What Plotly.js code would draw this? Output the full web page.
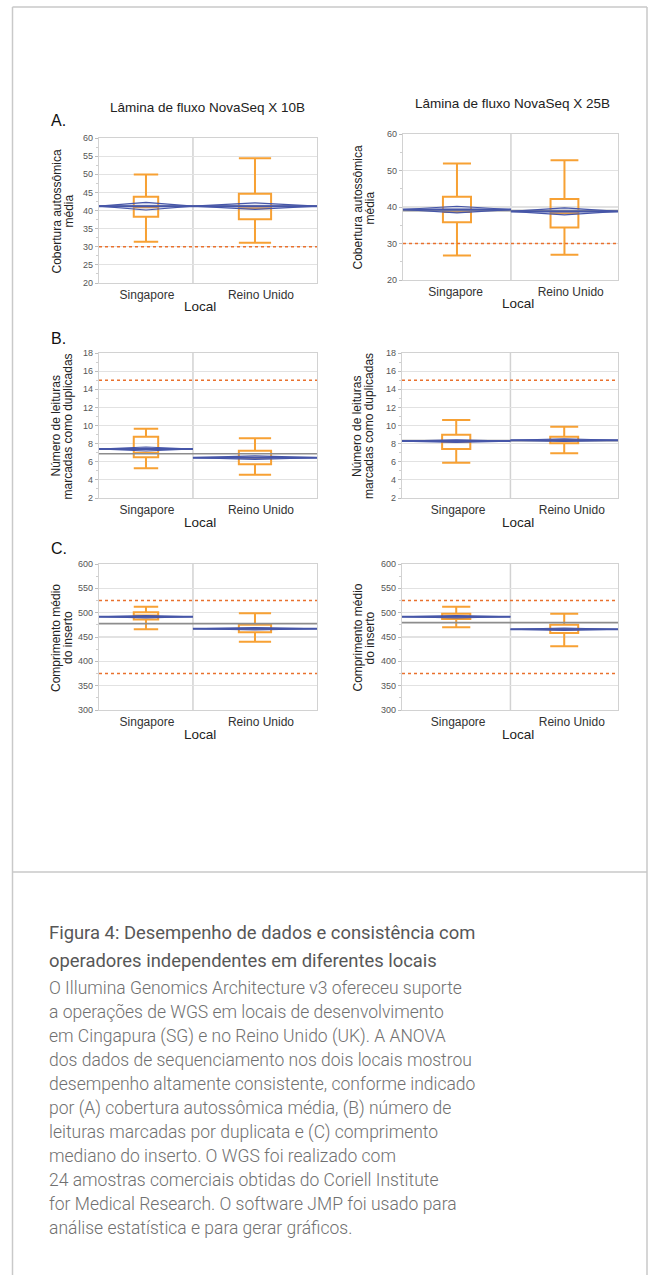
<!DOCTYPE html>
<html>
<head>
<meta charset="utf-8">
<script src="https://cdn.plot.ly/plotly-3.0.1.min.js"></script>
<style>
html,body{margin:0;padding:0;background:#fff;}
#chart{width:651px;height:1275px;}
</style>
</head>
<body>
<div id="chart"></div>
<script>
// ---------------- DATA ----------------
const sites = ['Singapore', 'Reino Unido'];
const flowCells = ['Lâmina de fluxo NovaSeq X 10B', 'Lâmina de fluxo NovaSeq X 25B'];
const panelLetters = ['A.', 'B.', 'C.'];
const xTitle = 'Local';

// box stats per site: [lower whisker, Q1, median, Q3, upper whisker]
const cov10B_box = [[31.4, 38.3, 40.9, 43.8, 49.9], [31.1, 37.6, 40.6, 44.6, 54.4]];
const cov25B_box = [[26.7, 35.8, 38.6, 42.8, 51.9], [26.9, 34.4, 38.3, 42.2, 52.8]];
const dup10B_box = [[5.27, 6.5, 7.0, 8.76, 9.65], [4.57, 5.72, 6.45, 7.22, 8.58]];
const dup25B_box = [[5.9, 7.4, 8.2, 8.98, 10.6], [6.93, 8.03, 8.4, 8.76, 9.87]];
const ins10B_box = [[466, 486, 494, 501, 512], [440, 460, 467, 475, 499]];
const ins25B_box = [[470, 487, 492, 498, 512], [431, 458, 466, 475, 498]];

// group means and half-height of means diamonds
const cov10B_mean = [41.2, 41.2];  const cov10B_ci = [1.05, 0.9];
const cov25B_mean = [39.3, 38.8];  const cov25B_ci = [0.9, 0.95];
const dup10B_mean = [7.4, 6.45];   const dup10B_ci = [0.22, 0.2];
const dup25B_mean = [8.28, 8.38];  const dup25B_ci = [0.15, 0.15];
const ins10B_mean = [491.7, 467];  const ins10B_ci = [2.5, 2.5];
const ins25B_mean = [491.5, 466];  const ins25B_ci = [2.5, 2.5];

// grand means (gray line)
const cov10B_grand = 41.2, cov25B_grand = 39.0;
const dup10B_grand = 6.88, dup25B_grand = 8.33;
const ins10B_grand = 477.5, ins25B_grand = 479.5;

// specification limits (dashed lines)
const covLimits = [30];
const dupLimits = [15];
const insLimits = [375, 525];

const yTitles = [
  ['Cobertura autossômica', 'média'],
  ['Número de leituras', 'marcadas como duplicadas'],
  ['Comprimento médio', 'do inserto']
];

const captionTitle = [
  'Figura 4: Desempenho de dados e consistência com',
  'operadores independentes em diferentes locais'
];
const captionBody = [
  'O Illumina Genomics Architecture v3 ofereceu suporte',
  'a operações de WGS em locais de desenvolvimento',
  'em Cingapura (SG) e no Reino Unido (UK). A ANOVA',
  'dos dados de sequenciamento nos dois locais mostrou',
  'desempenho altamente consistente, conforme indicado',
  'por (A) cobertura autossômica média, (B) número de',
  'leituras marcadas por duplicata e (C) comprimento',
  'mediano do inserto. O WGS foi realizado com',
  '24 amostras comerciais obtidas do Coriell Institute',
  'for Medical Research. O software JMP foi usado para',
  'análise estatística e para gerar gráficos.'
];

// ---------------- LAYOUT HELPERS ----------------
const W = 651, H = 1275;
const fx = p => p / W;
const fy = p => 1 - p / H;
const FONT = 'Liberation Sans, Arial, sans-serif';
const ORANGE = '#f7a134';
const LIMIT = '#e9712d';
const BLUE = '#4656a8';
const GREY = '#8d8d8d';

const panels = [
  {box: cov10B_box, mean: cov10B_mean, ci: cov10B_ci, grand: cov10B_grand, lim: covLimits, yr: [20, 60], dt: 5, mdt: 2.5, xpx: [99, 317], ypx: [138, 283], split: 0.431, lab: [0.22, 0.743], row: 0, col: 0},
  {box: cov25B_box, mean: cov25B_mean, ci: cov25B_ci, grand: cov25B_grand, lim: covLimits, yr: [20, 60], dt: 10, mdt: 5, xpx: [403, 618], ypx: [134, 280], split: 0.502, lab: [0.245, 0.78], row: 0, col: 1},
  {box: dup10B_box, mean: dup10B_mean, ci: dup10B_ci, grand: dup10B_grand, lim: dupLimits, yr: [2, 18], dt: 2, mdt: 1, xpx: [99, 317], ypx: [353, 498], split: 0.431, lab: [0.22, 0.743], row: 1, col: 0},
  {box: dup25B_box, mean: dup25B_mean, ci: dup25B_ci, grand: dup25B_grand, lim: dupLimits, yr: [2, 18], dt: 2, mdt: 1, xpx: [402, 618], ypx: [353, 498], split: 0.502, lab: [0.26, 0.786], row: 1, col: 1},
  {box: ins10B_box, mean: ins10B_mean, ci: ins10B_ci, grand: ins10B_grand, lim: insLimits, yr: [300, 600], dt: 50, mdt: 25, xpx: [99, 317], ypx: [564, 710], split: 0.431, lab: [0.22, 0.743], row: 2, col: 0},
  {box: ins25B_box, mean: ins25B_mean, ci: ins25B_ci, grand: ins25B_grand, lim: insLimits, yr: [300, 600], dt: 50, mdt: 25, xpx: [402, 618], ypx: [564, 710], split: 0.502, lab: [0.26, 0.786], row: 2, col: 1}
];

const traces = [];
const layout = {
  width: W, height: H,
  margin: {l: 0, r: 0, t: 0, b: 0},
  paper_bgcolor: '#fff', plot_bgcolor: '#fff',
  showlegend: false, hovermode: false,
  font: {family: FONT, color: '#444'},
  shapes: [], annotations: []
};

panels.forEach((p, i) => {
  const sfx = i ? String(i + 1) : '';
  const xr = 'x' + sfx, yr = 'y' + sfx;
  const groups = [[0, p.split], [p.split, 1]];

  layout['xaxis' + sfx] = {
    domain: [fx(p.xpx[0]), fx(p.xpx[1])], anchor: yr, range: [0, 1],
    showgrid: false, zeroline: false, showline: true, mirror: true,
    linecolor: '#d2d2d2', linewidth: 1.2,
    tickvals: p.lab, ticktext: sites, ticks: '',
    tickfont: {size: 12, color: '#333', family: FONT}, fixedrange: true
  };
  layout['yaxis' + sfx] = {
    domain: [fy(p.ypx[1]), fy(p.ypx[0])], anchor: xr, range: p.yr,
    dtick: p.dt, tick0: p.yr[0], showgrid: true, gridcolor: '#e2e2e2', gridwidth: 1.2,
    zeroline: false, showline: true, mirror: true, linecolor: '#d2d2d2', linewidth: 1.2,
    ticks: 'outside', ticklen: 3, tickcolor: '#bdbdbd',
    minor: {dtick: p.mdt, tick0: p.yr[0], ticks: 'outside', ticklen: 2, tickcolor: '#cfcfcf', showgrid: false},
    tickfont: {size: 9, color: '#555', family: FONT}, fixedrange: true
  };

  // separator between groups
  layout.shapes.push({type: 'line', xref: xr, yref: yr + ' domain', x0: p.split, x1: p.split, y0: 0, y1: 1,
    line: {color: '#d2d2d2', width: 1.5}, layer: 'below'});

  // spec limits
  p.lim.forEach(v => traces.push({type: 'scatter', mode: 'lines', xaxis: xr, yaxis: yr,
    x: [0, 1], y: [v, v], line: {color: LIMIT, width: 1.5, dash: '3px,3px'}}));

  // grand mean
  traces.push({type: 'scatter', mode: 'lines', xaxis: xr, yaxis: yr,
    x: [0, 1], y: [p.grand, p.grand], line: {color: GREY, width: 1.6}});

  // means diamonds
  groups.forEach((g, k) => {
    const c = (g[0] + g[1]) / 2, m = p.mean[k], d = p.ci[k];
    traces.push({type: 'scatter', mode: 'lines', xaxis: xr, yaxis: yr,
      x: [g[0], c, g[1], c, g[0]], y: [m, m + d, m, m - d, m],
      fill: 'toself', fillcolor: 'rgba(120,135,200,0.18)',
      line: {color: BLUE, width: 1.1}});
    traces.push({type: 'scatter', mode: 'lines', xaxis: xr, yaxis: yr,
      x: [g[0], g[1]], y: [m, m], line: {color: BLUE, width: 2}});
  });

  // box plots
  groups.forEach((g, k) => {
    const c = (g[0] + g[1]) / 2, b = p.box[k];
    traces.push({type: 'box', xaxis: xr, yaxis: yr,
      x: [c], lowerfence: [b[0]], q1: [b[1]], median: [b[2]], q3: [b[3]], upperfence: [b[4]],
      width: (g[1] - g[0]) * 0.26, whiskerwidth: 1, boxpoints: false,
      fillcolor: 'rgba(255,255,255,0)', line: {color: ORANGE, width: 2}});
  });

  // y title (two lines)
  const yc = (p.ypx[0] + p.ypx[1]) / 2;
  const tx = p.col === 0 ? 62 : 363.5;
  yTitles[p.row].forEach((t, j) => layout.annotations.push({
    text: t, xref: 'paper', yref: 'paper', x: fx(tx - 6 + 12 * j), y: fy(yc + 1),
    xanchor: 'center', yanchor: 'middle', textangle: -90, showarrow: false,
    font: {size: 12, color: '#222', family: FONT}}));

  // x title
  layout.annotations.push({text: xTitle, xref: 'paper', yref: 'paper',
    x: fx(p.col === 0 ? 200 : 518), y: fy(p.ypx[1] + 24), xanchor: 'center', yanchor: 'middle',
    showarrow: false, font: {size: 13.5, color: '#222', family: FONT}});
});

// column titles
layout.annotations.push({text: flowCells[0], xref: 'paper', yref: 'paper', x: fx(207), y: fy(107),
  xanchor: 'center', yanchor: 'middle', showarrow: false, font: {size: 13.5, color: '#222', family: FONT}});
layout.annotations.push({text: flowCells[1], xref: 'paper', yref: 'paper', x: fx(512), y: fy(104),
  xanchor: 'center', yanchor: 'middle', showarrow: false, font: {size: 13.5, color: '#222', family: FONT}});

// panel letters
[120, 338, 548].forEach((py, i) => layout.annotations.push({text: panelLetters[i], xref: 'paper', yref: 'paper',
  x: fx(49), y: fy(py), xanchor: 'left', yanchor: 'middle', showarrow: false,
  font: {size: 16, color: '#111', family: FONT}}));

// frame
const frame = {color: '#c9c9c9', width: 1.5};
layout.shapes.push({type: 'line', xref: 'paper', yref: 'paper', x0: fx(12.5), x1: fx(12.5), y0: 0, y1: fy(7), line: frame});
layout.shapes.push({type: 'line', xref: 'paper', yref: 'paper', x0: fx(647), x1: fx(647), y0: 0, y1: fy(7), line: frame});
layout.shapes.push({type: 'line', xref: 'paper', yref: 'paper', x0: fx(12.5), x1: fx(647), y0: fy(7), y1: fy(7), line: frame});
layout.shapes.push({type: 'line', xref: 'paper', yref: 'paper', x0: fx(12.5), x1: fx(647), y0: fy(872), y1: fy(872), line: frame});

// caption
captionTitle.forEach((t, i) => layout.annotations.push({text: t, xref: 'paper', yref: 'paper',
  x: fx(47), y: fy(932 + 28 * i), xanchor: 'left', yanchor: 'middle', showarrow: false,
  font: {size: 18.4, color: '#575757', family: 'Roboto, sans-serif', weight: 400}}));
captionBody.forEach((t, i) => layout.annotations.push({text: t, xref: 'paper', yref: 'paper',
  x: fx(47), y: fy(988 + 24 * i), xanchor: 'left', yanchor: 'middle', showarrow: false,
  font: {size: 17.5, color: '#707070', family: 'Roboto, sans-serif', weight: 300}}));

Plotly.newPlot('chart', traces, layout, {staticPlot: true, displayModeBar: false});
</script>
</body>
</html>
